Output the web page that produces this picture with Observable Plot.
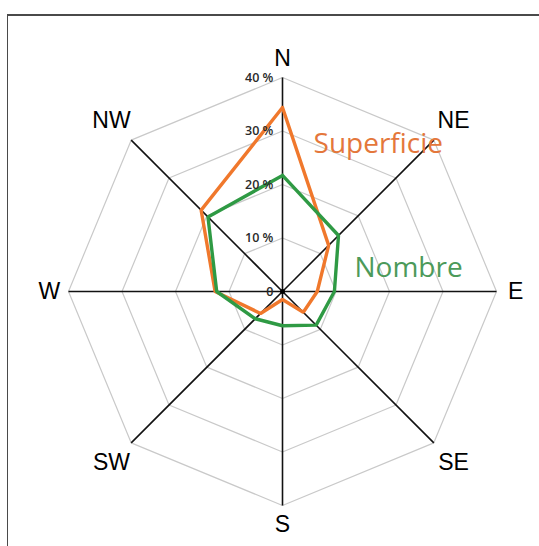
<!DOCTYPE html>
<html>
<head>
<meta charset="utf-8">
<script src="https://cdn.jsdelivr.net/npm/d3@7"></script>
<script src="https://cdn.jsdelivr.net/npm/@observablehq/plot@0.6"></script>
<style>
  html, body { margin: 0; padding: 0; background: #fff; }
  #wrap { position: relative; width: 539px; height: 546px; overflow: hidden; }
  #frame { position: absolute; left: 7px; top: 14px; width: 600px; height: 600px;
           border-left: 1.5px solid #4a4a4a; border-top: 2px solid #4a4a4a; pointer-events: none; }
  #chart { position: absolute; left: 0; top: 0; }
</style>
</head>
<body>
<div id="wrap"><div id="chart"></div><div id="frame"></div></div>
<script>
// Wind-rose style radar: share of surface ("Superficie") and count ("Nombre") by orientation, in %
const directions = ["N", "NE", "E", "SE", "S", "SW", "W", "NW"];
const superficie = [34.4, 12.2, 6.5, 5.5, 1.5, 5.8, 12.6, 21.5];
const nombre = [21.7, 14.8, 9.7, 8.9, 6.4, 7.2, 12.3, 19.7];
const ringLevels = [10, 20, 30, 40];
const tickValues = [0, 10, 20, 30, 40];
const tickLabels = ["0", "10 %", "20 %", "30 %", "40 %"];

const maxValue = 40;
const cx = 282, cy = 291, R = 214;

// polar → cartesian, N at the top, clockwise
const angle = i => (i * 2 * Math.PI) / directions.length;
const px = (v, i) => v * Math.sin(angle(i));
const py = (v, i) => v * Math.cos(angle(i));

// closed polygon through the eight directions
const polygon = (values, key) =>
  [...values, values[0]].map((v, j) => ({x: px(v, j % directions.length), y: py(v, j % directions.length), key}));

const rings = ringLevels.flatMap(level => polygon(directions.map(() => level), level));
const spokes = directions.map((d, i) => ({x: px(maxValue, i), y: py(maxValue, i)}));
const dirLabels = directions.map((d, i) => {
  const r = i % 2 === 0 ? 43.6 : 45.2;
  return {label: d, x: px(r, i), y: py(r, i)};
});
const ticks = tickValues.map((v, i) => ({value: v, label: tickLabels[i]}));

const orange = "#f0782c";
const green = "#2f9a44";

const chart = Plot.plot({
  width: 539,
  height: 546,
  margin: 0,
  x: {domain: [-maxValue, maxValue], range: [cx - R, cx + R], axis: null},
  y: {domain: [-maxValue, maxValue], range: [cy + R, cy - R], axis: null},
  marks: [
    Plot.line(rings, {x: "x", y: "y", z: "key", stroke: "#c9c9c9", strokeWidth: 1.2}),
    Plot.link(spokes, {x1: 0, y1: 0, x2: "x", y2: "y", stroke: "#111", strokeWidth: 1.6}),
    Plot.line(polygon(superficie, "Superficie"), {x: "x", y: "y", stroke: orange, strokeWidth: 3.4, strokeLinejoin: "miter"}),
    Plot.line(polygon(nombre, "Nombre"), {x: "x", y: "y", stroke: green, strokeWidth: 3.4, strokeLinejoin: "miter"}),
    Plot.dot([{x: px(0, 0), y: py(0, 0)}], {x: "x", y: "y", r: 2.5, fill: "#000"}),
    Plot.text(ticks, {
      x: -1.7, y: "value", text: "label", textAnchor: "end", lineAnchor: "middle",
      fontSize: 12.5, fontWeight: 600, fill: "#2a2a2a", fontFamily: "'Open Sans', sans-serif"
    }),
    Plot.text(dirLabels, {
      x: "x", y: "y", text: "label", textAnchor: "middle", lineAnchor: "middle",
      fontSize: 23, fill: "#000", fontFamily: "'Liberation Sans', Arial, sans-serif"
    }),
    Plot.text(["Superficie"], {
      x: 5.8, y: 25.8, text: d => d, textAnchor: "start", lineAnchor: "bottom",
      fontSize: 28, fill: "#e4773b", fontFamily: "'Open Sans', sans-serif"
    }),
    Plot.text(["Nombre"], {
      x: 13.46, y: 2.62, text: d => d, textAnchor: "start", lineAnchor: "bottom",
      fontSize: 28, fill: "#4c9a5a", fontFamily: "'Open Sans', sans-serif"
    })
  ]
});

document.getElementById("chart").appendChild(chart);
</script>
</body>
</html>
